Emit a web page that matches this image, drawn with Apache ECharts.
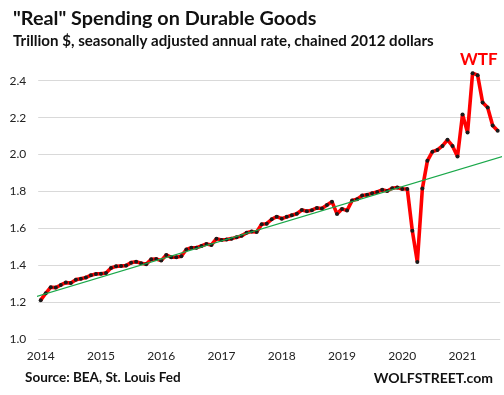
<!DOCTYPE html>
<html>
<head>
<meta charset="utf-8">
<script src="https://cdn.jsdelivr.net/npm/echarts@6/dist/echarts.min.js"></script>
<style>
html,body{margin:0;padding:0;background:#fff;}
#chart{width:504px;height:395px;}
</style>
</head>
<body>
<div id="chart"></div>
<script>
// Tick labels (years) and the month index where each year starts
var yearLabels = ['2014','2015','2016','2017','2018','2019','2020','2021'];
var yearTickIndex = [0, 12, 24, 36, 48, 60, 72, 84];

// Monthly real spending on durable goods, trillion $ (SAAR, chained 2012 $)
var v2014 = [1.212, 1.249, 1.282, 1.280, 1.294, 1.307, 1.305, 1.323, 1.328, 1.334, 1.347, 1.354];
var v2015 = [1.355, 1.359, 1.386, 1.395, 1.397, 1.399, 1.415, 1.420, 1.412, 1.406, 1.433, 1.435];
var v2016 = [1.426, 1.457, 1.444, 1.444, 1.450, 1.486, 1.496, 1.496, 1.505, 1.516, 1.511, 1.545];
var v2017 = [1.538, 1.540, 1.545, 1.552, 1.560, 1.577, 1.583, 1.581, 1.623, 1.626, 1.650, 1.664];
var v2018 = [1.653, 1.663, 1.672, 1.680, 1.700, 1.693, 1.699, 1.711, 1.708, 1.727, 1.745, 1.679];
var v2019 = [1.706, 1.697, 1.751, 1.758, 1.778, 1.782, 1.791, 1.798, 1.809, 1.803, 1.818, 1.822];
var v2020 = [1.814, 1.814, 1.588, 1.419, 1.816, 1.966, 2.016, 2.025, 2.047, 2.080, 2.047, 1.990];
var v2021 = [2.217, 2.119, 2.441, 2.430, 2.282, 2.255, 2.157, 2.129];

// Linear trend line end points (month index, value)
var trendX = [-1.33, 92.3];
var trendY = [1.227, 1.992];

// Y-axis ticks
var yMin = 1.0, yMax = 2.4, yStep = 0.2;

var spending = [].concat(v2014, v2015, v2016, v2017, v2018, v2019, v2020, v2021);
var mainData = spending.map(function (v, i) { return [i, v]; });
var trendData = trendX.map(function (x, i) { return [x, trendY[i]]; });

var FONT = 'Lato';
var chart = echarts.init(document.getElementById('chart'), null, {renderer: 'canvas'});
chart.setOption({
  animation: false,
  backgroundColor: '#ffffff',
  grid: {left: 38.2, right: 3.8, top: 80.7, bottom: 55.7},
  xAxis: {
    type: 'value',
    min: -0.5,
    max: spending.length - 0.5,
    axisLine: {show: false},
    axisTick: {show: false},
    splitLine: {show: false},
    axisLabel: {
      customValues: yearTickIndex,
      formatter: function (v) { return yearLabels[yearTickIndex.indexOf(v)] || ''; },
      color: '#222',
      fontFamily: FONT,
      fontSize: 12,
      margin: 11
    }
  },
  yAxis: {
    type: 'value',
    min: yMin,
    max: yMax,
    interval: yStep,
    axisLine: {show: false},
    axisTick: {show: false},
    splitLine: {lineStyle: {color: '#d9d9d9', width: 1}},
    axisLabel: {
      formatter: function (v) { return v.toFixed(1); },
      color: '#222',
      fontFamily: FONT,
      fontSize: 12,
      margin: 12
    }
  },
  series: [
    {
      type: 'line',
      data: mainData,
      clip: false,
      symbol: 'circle',
      symbolSize: 4,
      itemStyle: {color: '#1a1a1a'},
      lineStyle: {color: '#ff0000', width: 3.6},
      z: 2
    },
    {
      type: 'line',
      data: trendData,
      clip: false,
      symbol: 'none',
      lineStyle: {color: '#1aa84a', width: 1.2},
      z: 3
    }
  ],
  graphic: [
    {type: 'text', x: 13, y: 18.5, style: {text: '"Real" Spending on Durable Goods', font: 'bold 19.8px ' + FONT, fill: '#111', verticalAlign: 'middle'}},
    {type: 'text', x: 13, y: 41, style: {text: 'Trillion $, seasonally adjusted annual rate, chained 2012 dollars', font: 'bold 15.1px ' + FONT, fill: '#111', verticalAlign: 'middle'}},
    {type: 'text', x: 460, y: 59.5, style: {text: 'WTF', font: 'bold 17px ' + FONT, fill: '#ff0000', verticalAlign: 'middle'}},
    {type: 'text', x: 25, y: 378, style: {text: 'Source: BEA, St. Louis Fed', font: 'bold 13.5px ' + FONT, fill: '#111', verticalAlign: 'middle'}},
    {type: 'text', x: 493, y: 378, style: {text: 'WOLFSTREET.com', font: 'bold 14px ' + FONT, fill: '#111', verticalAlign: 'middle', align: 'right'}}
  ]
});
</script>
</body>
</html>
